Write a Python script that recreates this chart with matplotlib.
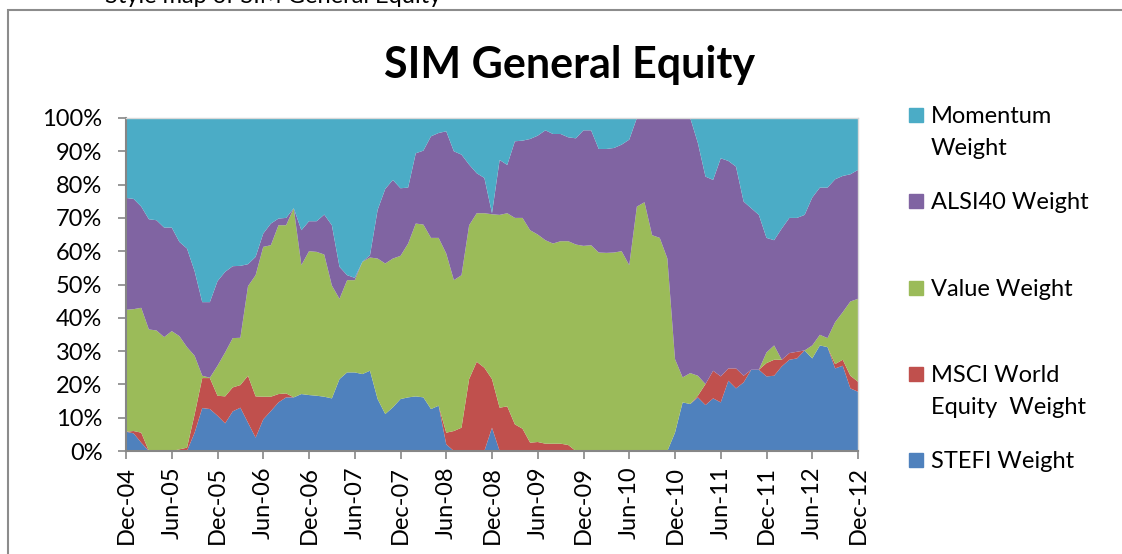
import numpy as np
import pandas as pd
import matplotlib
matplotlib.use("Agg")
import matplotlib.pyplot as plt
from matplotlib.patches import Rectangle
from matplotlib.ticker import FuncFormatter

# monthly style weights (%), Dec-04 .. Dec-12
months = pd.date_range("2004-12-01", periods=97, freq="MS")
tick_labels = [d.strftime("%b-%y") for d in months[::6]]

stefi = [5.8, 5.3, 2.5, 0, 0, 0, 0, 0, 0, 5.5, 12.9, 12.6, 10.6, 8.3, 11.9, 13.0,
         8.5, 4.0, 9.5, 12.0, 14.6, 16.1, 16.1, 17.1, 16.8, 16.6, 16.3, 15.8, 21.6, 23.6,
         23.6, 23.1, 24.1, 15.6, 11.1, 13.1, 15.6, 16.1, 16.4, 16.1, 12.6, 13.6, 2.0, 0,
         0, 0, 0, 0, 7.0, 0, 0, 0, 0, 0, 0, 0, 0, 0, 0, 0, 0, 0, 0, 0, 0, 0, 0, 0, 0, 0,
         0, 0, 5.5, 14.6, 14.1, 16.1, 13.8, 15.8, 14.6, 21.1, 18.8, 20.6, 24.4, 24.4,
         22.4, 22.6, 25.4, 27.4, 27.8, 30.2, 27.8, 31.7, 31.2, 24.8, 25.6, 18.8, 17.8]
msci = [0, 0.7, 3.0, 0, 0, 0, 0, 0.5, 1.0, 5.5, 9.0, 9.3, 6.0, 8.1, 7.2, 6.8,
        14.1, 12.4, 6.8, 4.3, 2.5, 1.2, 0, 0, 0, 0, 0, 0, 0, 0,
        0, 0, 0, 0, 0, 0, 0, 0, 0, 0, 0, 0, 3.5, 6.0,
        7.0, 21.6, 26.8, 25.0, 14.6, 13.0, 13.4, 8.0, 6.7, 2.5, 2.7, 2.2, 2.2, 2.2, 1.8, 0,
        0, 0, 0, 0, 0, 0, 0, 0, 0, 0, 0, 0, 0, 0, 0, 0.5, 6.3, 8.3, 7.8, 3.7, 6.0, 2.0,
        0, 0, 4.0, 4.8, 2.0, 2.0, 2.0, 0, 0, 0, 0, 1.3, 1.8, 3.8, 3.0]
value = [36.6, 36.6, 37.5, 36.5, 36.2, 34.2, 36.0, 34.0, 30.2, 17.6, 0.7, 0.1, 9.0, 13.2,
         14.8, 14.2, 26.9, 36.4, 45.0, 45.5, 50.7, 50.5, 56.8, 38.7, 43.2, 43.2, 42.7, 33.9,
         24.1, 27.7, 27.7, 33.7, 34.0, 42.2, 45.2, 44.7, 43.0, 46.2, 51.9, 51.9, 51.4, 50.4,
         53.8, 45.3, 45.8, 46.2, 44.6, 46.4, 49.5, 57.9, 58.0, 62.0, 63.3, 63.8, 62.3, 61.1,
         60.1, 60.8, 61.2, 62.0, 61.6, 61.8, 59.6, 59.5, 59.6, 60.0, 55.8, 73.4, 74.7, 64.8,
         64.0, 57.8, 22.1, 7.5, 9.3, 6.0, 0, 0, 0, 0, 0, 0, 0, 0, 3.2, 4.3, 0, 0, 0, 0,
         3.9, 3.2, 2.7, 12.6, 14.3, 22.3, 24.9]
alsi40 = [33.6, 33.1, 30.4, 33.1, 33.1, 32.9, 31.1, 28.3, 29.6, 25.4, 22.1, 22.7, 25.4,
          24.2, 21.6, 21.6, 6.6, 5.5, 4.0, 6.5, 2.0, 2.2, 0, 10.5, 9.0, 9.2, 12.0, 18.1, 9.6,
          1.5, 0.7, 0, 0.7, 14.6, 22.4, 23.6, 20.3, 16.8, 21.1, 22.2, 30.5, 31.5, 36.7, 38.7,
          36.2, 18.2, 12.0, 10.6, 0.3, 16.5, 14.5, 23.0, 23.2, 27.4, 29.7, 33.0, 32.9, 32.2,
          31.2, 31.9, 34.7, 34.5, 31.1, 31.2, 31.4, 32.0, 37.7, 26.6, 25.3, 35.2, 36.0, 42.2,
          72.4, 77.9, 76.6, 69.9, 62.3, 57.3, 65.5, 62.3, 60.6, 52.3, 48.5, 46.5, 34.4, 31.6,
          39.4, 40.6, 40.2, 40.7, 44.4, 44.2, 45.2, 42.9, 40.9, 38.2, 38.7]
momentum = [24.0, 24.3, 26.6, 30.4, 30.7, 32.9, 32.9, 37.2, 39.2, 46.0, 55.3, 55.3, 49.0,
            46.2, 44.5, 44.4, 43.9, 41.7, 34.7, 31.7, 30.2, 30.0, 27.1, 33.7, 31.0, 31.0,
            29.0, 32.2, 44.7, 47.2, 48.0, 43.2, 41.2, 27.6, 21.3, 18.6, 21.1, 20.9, 10.6, 9.8,
            5.5, 4.5, 4.0, 10.0, 11.0, 14.0, 16.6, 18.0, 28.6, 12.6, 14.1, 7.0, 6.8, 6.3, 5.3,
            3.7, 4.8, 4.8, 5.8, 6.1, 3.7, 3.7, 9.3, 9.3, 9.0, 8.0, 6.5, 0, 0, 0, 0, 0, 0, 0,
            0, 7.5, 17.6, 18.6, 12.1, 12.9, 14.6, 25.1, 27.1, 29.1, 36.0, 36.7, 33.2, 30.0,
            30.0, 29.1, 23.9, 20.9, 20.9, 18.4, 17.4, 16.9, 15.6]

labels = ["STEFI Weight", "MSCI World\nEquity  Weight", "Value Weight",
          "ALSI40 Weight", "Momentum\nWeight"]
colors = ["#4F81BD", "#C0504D", "#9BBB59", "#8064A2", "#4BACC6"]

W, H = 1122, 554
fig = plt.figure(figsize=(W / 100, H / 100), dpi=100)
plt.rcParams["font.family"] = ["Lato", "DejaVu Sans"]

# chart frame (cut off at the right and bottom like the screenshot)
fig.add_artist(Rectangle((8 / W, -0.05), 1.2, 1 - 10 / H + 0.05, transform=fig.transFigure,
                         fill=False, edgecolor="#8c8c8c", lw=1.5))
fig.text(105 / W, 1 - 3 / H, "Style map of SIM General Equity", fontsize=17,
         va="baseline", ha="left")

ax = fig.add_axes([126 / W, 1 - 451 / H, (858 - 126) / W, (451 - 118) / H])
x = np.arange(len(stefi))
ax.stackplot(x, stefi, msci, value, alsi40, momentum, colors=colors, lw=0)
ax.set_xlim(0, len(stefi) - 1)
ax.set_ylim(0, 100)

ax.set_yticks(np.arange(0, 101, 10))
ax.yaxis.set_major_formatter(FuncFormatter(lambda v, p: f"{v:.0f}%"))
ax.set_xticks(x[::6])
ax.set_xticklabels(tick_labels, rotation=90)
ax.tick_params(labelsize=17, colors="black", length=6, width=1.2)
ax.tick_params(axis="both", color="#868686")
ax.tick_params(axis="y", pad=11)
ax.tick_params(axis="x", pad=5)
for s in ["left", "bottom"]:
    ax.spines[s].set_color("#868686")
    ax.spines[s].set_linewidth(1.5)
for s in ["top", "right"]:
    ax.spines[s].set_color("#d9d9d9")
    ax.spines[s].set_linewidth(1)

fig.text(570 / W, 1 - 65 / H, "SIM General Equity", fontsize=31, fontweight="bold",
         ha="center", va="center")

# legend drawn by hand: Excel spaces entries evenly, top entry first
for k, (lab, col) in enumerate(zip(labels[::-1], colors[::-1])):
    cy = 115 + k * 86.3
    fig.add_artist(Rectangle((909 / W, 1 - (cy + 7) / H), 14 / W, 14 / H,
                             transform=fig.transFigure, color=col))
    for j, line in enumerate(lab.split("\n")):
        fig.text(931 / W, 1 - (cy + 8 + j * 32) / H, line, fontsize=17,
                 va="baseline", ha="left")

fig.savefig("out.png", dpi=100)
